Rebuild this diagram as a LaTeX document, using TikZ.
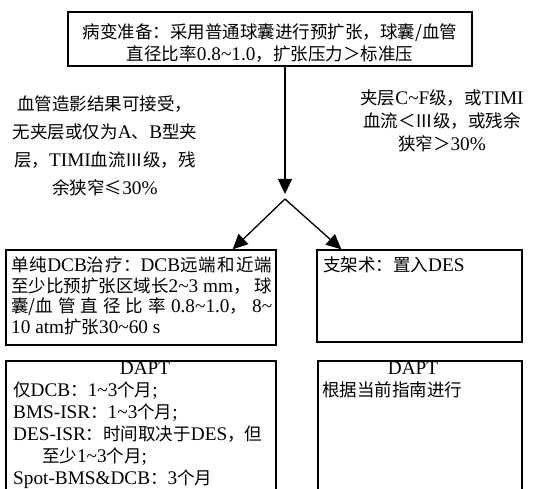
\documentclass[tikz,border=0pt]{standalone}
\usepackage{fontspec}
\setmainfont{Liberation Serif}[Scale=1.1]
\newfontfamily\cjk{Noto Sans CJK SC}
\usetikzlibrary{arrows.meta}
\newcommand\C[1]{{\cjk #1}}
\newcommand\tl{\char"7E\relax}
\newcommand\g{\hskip 0pt plus 1fil\relax}
\begin{document}
\begin{tikzpicture}[x=1pt,y=-1pt,
  every node/.style={inner sep=0pt,font=\fontsize{17.5}{22}\selectfont},
  box/.style={draw,line width=1.3pt,minimum width=#1},
  arr/.style={line width=1.3pt,-{Triangle[length=15pt,width=14pt]}},
  txt/.style={align=left,anchor=north west}]
\useasboundingbox[fill=white] (0,0) rectangle (539,489);
% boxes
\node[box=404pt,minimum height=54pt] (top) at (270,39) {};
\node[box=270pt,minimum height=95pt] (box1) at (141,297.5) {};
\node[box=205pt,minimum height=92pt] (box2) at (419.5,296) {};
\node[box=270pt,minimum height=139pt] (box3) at (141,430.5) {};
\node[box=204pt,minimum height=139pt] (box4) at (420,430.5) {};
% texts
\node[align=center,anchor=north] (toptext) at (270,23)
  {\C{病变准备：采用普通球囊进行预扩张，球囊/血管}\\
   \C{直径比率}0.8\tl1.0\C{，扩张压力＞标准压}};
\node[align=center,anchor=north,font=\fontsize{17.5}{28}\selectfont] (leftlab) at (105,96)
  {\C{血管造影结果可接受，}\\
   \C{无夹层或仅为}A\C{、}B\C{型夹}\\
   \C{层，}TIMI\C{血流Ⅲ级，残}\\
   \C{余狭窄≤}30\%};
\node[align=center,anchor=north,font=\fontsize{17.5}{23}\selectfont] (rightlab) at (442,90)
  {\C{夹层}C\tl F\C{级，或}TIMI\\
   \C{血流＜Ⅲ级，或残余}\\
   \C{狭窄＞}30\%};
\node[txt,font=\fontsize{17.5}{20.5}\selectfont] (t1) at (11,257)
  {\hbox to 261pt{\C{单\g 纯}DCB\C{治\g 疗：}DCB\C{远\g 端\g 和\g 近\g 端}}\\
   \hbox to 261pt{\C{至少比预扩张区域长}2\tl3 mm\C{，}\g\C{球}}\\
   \hbox to 261pt{\C{囊/血\g 管\g 直\g 径\g 比\g 率}\g 0.8\tl1.0\C{，}\g 8\tl}\\
   10 atm\C{扩张}30\tl60 s};
\node[txt] (t2) at (323,257) {\C{支架术：置入}DES};
\node (d3) at (145,368) {DAPT};
\node[txt] (t3) at (13,382)
  {\C{仅}DCB\C{：}1\tl3\C{个月}; \\
   BMS-ISR\C{：}1\tl3\C{个月};\\
   DES-ISR\C{：时间取决于}DES\C{，但}\\
   \hspace{1.5em}\C{至少}1\tl3\C{个月};\\
   Spot-BMS\&DCB\C{：}3\C{个月}};
\node (d4) at (413,368) {DAPT};
\node[txt] (t4) at (322,382) {\C{根据当前指南进行}};
% connectors
\coordinate (split) at (285,199);
\coordinate (tipv) at (285,194);
\draw[arr] (top.south -| split) -- (tipv);
\draw[arr] (split) -- ([xshift=-44pt]box1.north east);
\draw[arr] (split) -- ([xshift=25pt]box2.north west);
\end{tikzpicture}
\end{document}
